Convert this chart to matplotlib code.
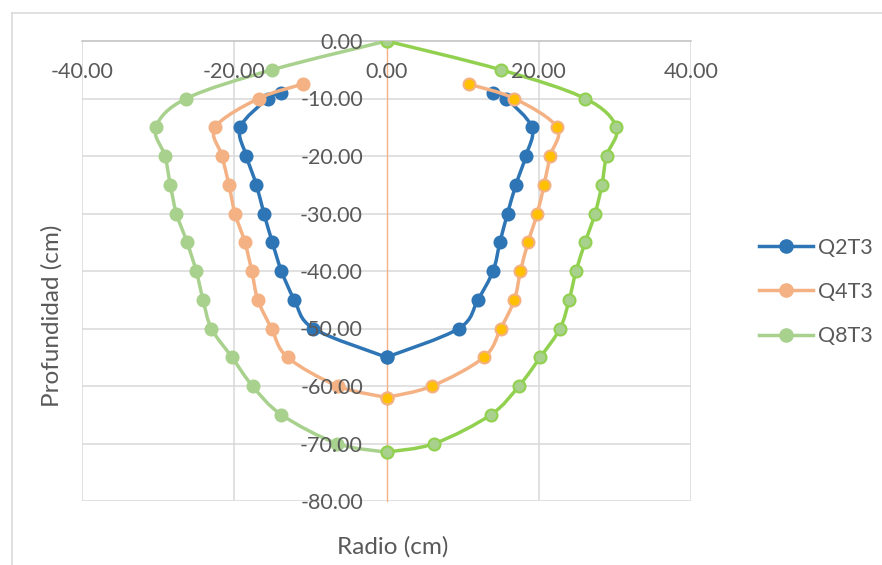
import numpy as np
import matplotlib
matplotlib.use("Agg")
import matplotlib.pyplot as plt
from matplotlib.path import Path
from matplotlib.patches import PathPatch
from matplotlib.lines import Line2D

plt.rcParams['font.family'] = ['Lato', 'DejaVu Sans']

# --- Profile data (radius vs depth, cm) ---
q2_depth = [-9, -10, -15, -20, -25, -30, -35, -40, -45, -50, -55]
q2_left = [-13.9, -15.6, -19.2, -18.4, -17.1, -16.1, -15.0, -13.8, -12.1, -9.6, 0]
q2_right = [14.0, 15.7, 19.1, 18.3, 17.0, 15.9, 14.9, 14.0, 12.0, 9.5, 0]

q4_depth = [-7.5, -10, -15, -20, -25, -30, -35, -40, -45, -50, -55, -60, -62]
q4_left = [-11.0, -16.8, -22.5, -21.6, -20.7, -19.9, -18.6, -17.7, -16.9, -15.1, -13.0, -6.4, 0]
q4_right = [10.8, 16.8, 22.4, 21.5, 20.7, 19.8, 18.6, 17.6, 16.8, 15.0, 12.8, 6.0, 0]

q8_depth = [0, -5, -10, -15, -20, -25, -30, -35, -40, -45, -50, -55, -60, -65, -70, -71.5]
q8_left = [0, -15.0, -26.3, -30.3, -29.1, -28.4, -27.6, -26.2, -25.0, -24.1, -23.0,
           -20.3, -17.6, -13.8, -6.5, 0]
q8_right = [0, 15.0, 26.1, 30.2, 28.9, 28.3, 27.4, 26.1, 24.9, 24.0, 22.8,
            20.2, 17.4, 13.7, 6.3, 0]

series_names = ['Q2T3', 'Q4T3', 'Q8T3']
x_ticks = [-40, -20, 0, 20, 40]
y_ticks = [0, -10, -20, -30, -40, -50, -60, -70, -80]

BLUE = '#2E75B6'
ORANGE = '#F4B183'
GOLD = '#FFC000'
LGREEN = '#A9D18E'
GREEN = '#92D050'
GRID = '#D9D9D9'
TEXT = '#595959'


def smooth_path(xs, ys):
    # Bezier segments through every point (Excel-style smoothed line)
    pts = np.column_stack([xs, ys]).astype(float)
    n = len(pts)
    verts = [pts[0]]
    codes = [Path.MOVETO]
    for i in range(n - 1):
        p0 = pts[max(i - 1, 0)]
        p1 = pts[i]
        p2 = pts[i + 1]
        p3 = pts[min(i + 2, n - 1)]
        verts += [p1 + (p2 - p0) / 6, p2 - (p3 - p1) / 6, p2]
        codes += [Path.CURVE4] * 3
    return Path(verts, codes)


def draw_side(ax, xs, ys, line_c, face_c, edge_c, z):
    ax.add_patch(PathPatch(smooth_path(xs, ys), fill=False, edgecolor=line_c,
                           lw=2.5, capstyle='round', joinstyle='round', zorder=z))
    ax.plot(xs, ys, linestyle='none', marker='o', ms=8.6, mfc=face_c,
            mec=edge_c, mew=1.5, zorder=z + 0.01)


fig = plt.figure(figsize=(8.82, 5.65), dpi=100)
ax = fig.add_axes([82 / 882, 1 - 501 / 565, 609 / 882, 460 / 565])
ax.set_xlim(-40, 40)
ax.set_ylim(-80, 0)

# gridlines
for yv in y_ticks[1:]:
    ax.axhline(yv, color=GRID, lw=1.1, zorder=0.5)
for xv in x_ticks:
    if xv != 0:
        ax.axvline(xv, color=GRID, lw=1.1, zorder=0.5)

draw_side(ax, q2_left, q2_depth, BLUE, BLUE, BLUE, 2.0)
draw_side(ax, q2_right, q2_depth, BLUE, BLUE, BLUE, 2.1)
draw_side(ax, q4_left, q4_depth, ORANGE, ORANGE, ORANGE, 2.2)
draw_side(ax, q4_right, q4_depth, ORANGE, GOLD, ORANGE, 2.3)
draw_side(ax, q8_left, q8_depth, LGREEN, LGREEN, LGREEN, 2.4)
draw_side(ax, q8_right, q8_depth, GREEN, LGREEN, GREEN, 2.5)

# axes crossing at the origin
ax.set_axisbelow(False)
ax.spines['top'].set_visible(False)
ax.spines['right'].set_visible(False)
ax.spines['bottom'].set_position(('data', 0))
ax.spines['bottom'].set_color('#BFBFBF')
ax.spines['bottom'].set_linewidth(1.1)
ax.spines['bottom'].set_zorder(1)
ax.spines['left'].set_position(('data', 0))
ax.spines['left'].set_color(ORANGE)
ax.spines['left'].set_linewidth(1.0)
ax.spines['left'].set_zorder(1)

ax.set_xticks(x_ticks)
ax.set_yticks(y_ticks)
ax.set_xticklabels([f'{v:.2f}' for v in x_ticks])
ax.set_yticklabels([f'{v:.2f}' for v in y_ticks])
ax.tick_params(axis='x', length=0, pad=15, labelsize=15.5, labelcolor=TEXT)
ax.tick_params(axis='y', length=0, pad=17, labelsize=15.5, labelcolor=TEXT)
for lbl in ax.get_xticklabels() + ax.get_yticklabels():
    lbl.set_zorder(5)

fig.text(393 / 882, 1 - 547 / 565, 'Radio (cm)', ha='center', va='center',
         fontsize=17.5, color=TEXT)
fig.text(52 / 882, 1 - 316 / 565, 'Profundidad (cm)', ha='center', va='center',
         rotation=90, fontsize=17.5, color=TEXT)

# legend
handles = [Line2D([], [], color=c, lw=2.5, marker='o', ms=9.5, mfc=c, mec=c)
           for c in (BLUE, ORANGE, LGREEN)]
leg = fig.legend(handles, series_names, loc='center left',
                 bbox_to_anchor=(759 / 882, 1 - 292 / 565), frameon=False,
                 fontsize=15.5, handlelength=2.5, handletextpad=0.25,
                 labelspacing=1.12, borderpad=0, borderaxespad=0)
for t in leg.get_texts():
    t.set_color(TEXT)

# chart area border
x0, y0 = 12 / 882, 1 - 13 / 565
fig.add_artist(Line2D([x0, x0], [0, y0], color=GRID, lw=1.1, transform=fig.transFigure))
fig.add_artist(Line2D([x0, 1], [y0, y0], color=GRID, lw=1.1, transform=fig.transFigure))

fig.savefig('out.png', dpi=100)
